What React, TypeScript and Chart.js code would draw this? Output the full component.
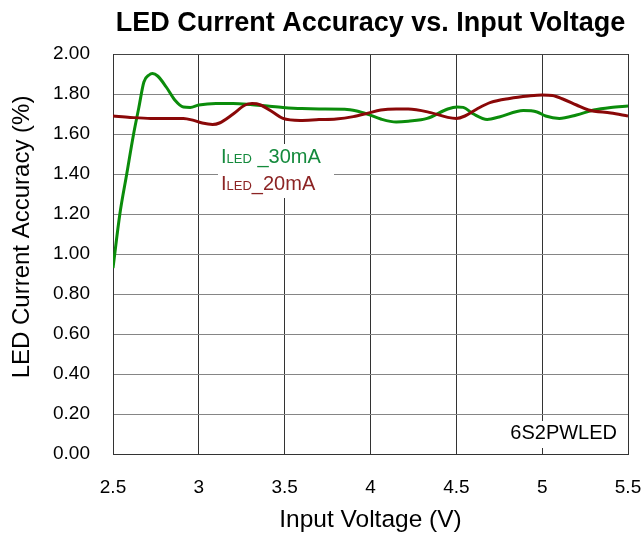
import React, { useEffect, useRef } from "react";
import { Chart, registerables } from "chart.js";

Chart.register(...registerables);

const title = "LED Current Accuracy vs. Input Voltage";
const xTitle = "Input Voltage (V)";
const yTitle = "LED Current Accuracy (%)";
const boardLabel = "6S2PWLED";

const xTicks = [2.5, 3, 3.5, 4, 4.5, 5, 5.5];
const yTicks = [0, 0.2, 0.4, 0.6, 0.8, 1.0, 1.2, 1.4, 1.6, 1.8, 2.0];

// ILED_30mA
const v30 = [2.5, 2.54, 2.58, 2.62, 2.65, 2.68, 2.71, 2.73, 2.76, 2.81, 2.86, 2.91, 2.95, 3.0, 3.1, 3.2, 3.3, 3.4, 3.49, 3.6, 3.7, 3.85, 3.92, 3.98, 4.06, 4.15, 4.22, 4.33, 4.45, 4.505, 4.54, 4.6, 4.68, 4.75, 4.89, 4.97, 5.02, 5.1, 5.2, 5.3, 5.4, 5.5];
const i30 = [0.93, 1.2, 1.4, 1.6, 1.73, 1.86, 1.895, 1.902, 1.89, 1.835, 1.77, 1.735, 1.733, 1.745, 1.753, 1.753, 1.748, 1.74, 1.733, 1.727, 1.725, 1.724, 1.715, 1.7, 1.675, 1.66, 1.664, 1.678, 1.725, 1.735, 1.733, 1.7, 1.673, 1.685, 1.717, 1.71, 1.69, 1.678, 1.695, 1.72, 1.733, 1.74];

// ILED_20mA
const v20 = [2.5, 2.6, 2.72, 2.91, 2.97, 3.02, 3.08, 3.12, 3.2, 3.27, 3.31, 3.36, 3.43, 3.49, 3.59, 3.7, 3.8, 3.9, 3.98, 4.06, 4.15, 4.22, 4.35, 4.45, 4.5, 4.55, 4.62, 4.7, 4.81, 4.92, 5.0, 5.06, 5.12, 5.2, 5.27, 5.4, 5.5];
const i20 = [1.69, 1.683, 1.678, 1.678, 1.668, 1.655, 1.648, 1.655, 1.7, 1.745, 1.752, 1.745, 1.71, 1.678, 1.668, 1.672, 1.675, 1.687, 1.703, 1.72, 1.725, 1.725, 1.707, 1.683, 1.678, 1.69, 1.725, 1.758, 1.778, 1.79, 1.795, 1.792, 1.775, 1.745, 1.72, 1.705, 1.69];

const FONT = "'Liberation Sans', Arial, sans-serif";
const GREEN = "#0b8c0b";
const RED = "#8a0808";

const textPlugin = {
  id: "texts",
  afterDraw(chart: any) {
    const ctx = chart.ctx as CanvasRenderingContext2D;
    const area = chart.chartArea;
    const cx = (area.left + area.right) / 2;
    ctx.save();
    // title
    ctx.fillStyle = "#000";
    ctx.font = `bold 27px ${FONT}`;
    ctx.textAlign = "center";
    ctx.textBaseline = "alphabetic";
    ctx.fillText(title, cx, 31);
    // x title
    ctx.font = `24.5px ${FONT}`;
    ctx.fillText(xTitle, cx, 527);
    // y title
    ctx.save();
    ctx.translate(29, 237);
    ctx.rotate(-Math.PI / 2);
    ctx.font = `24px ${FONT}`;
    ctx.fillText(yTitle, 0, 0);
    ctx.restore();

    // legend box
    ctx.fillStyle = "#fff";
    ctx.fillRect(218, 144, 116, 54);
    const drawLabel = (x: number, y: number, tail: string, color: string) => {
      ctx.fillStyle = color;
      ctx.textAlign = "left";
      ctx.font = `20px ${FONT}`;
      ctx.fillText("I", x, y);
      let w = ctx.measureText("I").width;
      ctx.font = `13px ${FONT}`;
      ctx.fillText("LED", x + w, y);
      w += ctx.measureText("LED").width;
      ctx.font = `20px ${FONT}`;
      ctx.fillText(tail, x + w, y);
    };
    drawLabel(221, 163, " _30mA", "#148a3c");
    drawLabel(221, 190, "_20mA", "#8c2424");

    // board label box
    ctx.fillStyle = "#fff";
    ctx.fillRect(505, 421, 121, 27);
    ctx.fillStyle = "#000";
    ctx.font = `20px ${FONT}`;
    ctx.textAlign = "right";
    ctx.fillText(boardLabel, 617, 439);
    ctx.restore();
  },
};

export default function App() {
  const ref = useRef<HTMLCanvasElement>(null);
  useEffect(() => {
    if (!ref.current) return;
    const chart = new Chart(ref.current, {
      type: "line",
      data: {
        datasets: [
          {
            label: "ILED_20mA",
            data: v20.map((x, i) => ({ x, y: i20[i] })),
            borderColor: RED,
            borderWidth: 3,
            pointRadius: 0,
            cubicInterpolationMode: "monotone",
            fill: false,
          },
          {
            label: "ILED_30mA",
            data: v30.map((x, i) => ({ x, y: i30[i] })),
            borderColor: GREEN,
            borderWidth: 3,
            pointRadius: 0,
            cubicInterpolationMode: "monotone",
            fill: false,
          },
        ],
      },
      options: {
        responsive: false,
        animation: false,
        layout: { autoPadding: false, padding: { left: 0, top: 54, right: 14, bottom: 0 } },
        plugins: { legend: { display: false }, title: { display: false }, tooltip: { enabled: false } },
        scales: {
          x: {
            type: "linear",
            min: 2.5,
            max: 5.5,
            afterFit: (s: any) => { s.height = 80; s.paddingLeft = 0; s.paddingRight = 0; },
            afterBuildTicks: (s: any) => { s.ticks = xTicks.map((v) => ({ value: v })); },
            ticks: {
              color: "#000",
              font: { family: FONT, size: 19 },
              padding: 22,
              maxRotation: 0,
              callback: (v: any) => String(v),
            },
            grid: { color: "#333", lineWidth: 1, drawTicks: false },
            border: { color: "#333", width: 1 },
          },
          y: {
            type: "linear",
            min: 0,
            max: 2,
            afterFit: (s: any) => { s.width = 113; s.paddingTop = 0; s.paddingBottom = 0; },
            afterBuildTicks: (s: any) => { s.ticks = yTicks.map((v) => ({ value: v })); },
            ticks: {
              color: "#000",
              font: { family: FONT, size: 19 },
              padding: 23,
              callback: (v: any) => Number(v).toFixed(2),
            },
            grid: {
              color: (c: any) => (c.tick && Math.abs(c.tick.value - 2) < 1e-6 ? "#444" : "#858585"),
              lineWidth: 1,
              drawTicks: false,
            },
            border: { color: "#333", width: 1 },
          },
        },
      },
      plugins: [textPlugin],
    });
    return () => chart.destroy();
  }, []);
  return (
    <div style={{ position: "absolute", left: 0, top: 0, width: 642, height: 534, background: "#fff" }}>
      <canvas ref={ref} width={642} height={534} style={{ width: 642, height: 534 }} />
    </div>
  );
}
